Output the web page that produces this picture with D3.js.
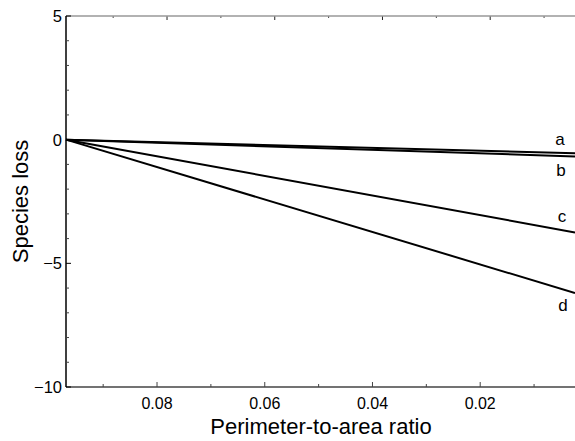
<!DOCTYPE html>
<html>
<head>
<meta charset="utf-8">
<script src="https://cdn.jsdelivr.net/npm/d3@7"></script>
<style>
  body { margin: 0; background: #fff; }
  svg { display: block; font-family: "Liberation Sans", Arial, sans-serif; }
  .tickLabel { font-size: 16px; fill: #000; }
  .axisTitle { font-size: 22px; fill: #000; }
  .curveLabel { font-size: 17px; fill: #000; }
</style>
</head>
<body>
<div id="chart"></div>
<script>
// data
const curves = ["a", "b", "c", "d"]
const xStart = 0.0969
const xEnd = 0.0024
const startValues = [0, 0, 0, 0]
const endValues = [-0.55, -0.68, -3.75, -6.2]
const xTicks = [0.08, 0.06, 0.04, 0.02]
const xMinorTicks = [0.09, 0.07, 0.05, 0.03, 0.01]
const yTicks = [5, 0, -5, -10]
const yMinorTicks = [4, 3, 2, 1, -1, -2, -3, -4, -6, -7, -8, -9]

const renderChart = ({htmlComponent}) => {
    const width = 575
    const height = 441
    const plot = {left: 66, right: 575, top: 16, bottom: 387}

    const svg = d3.select(htmlComponent).append('svg')
        .attr('width', width)
        .attr('height', height)

    const xScale = d3.scaleLinear()
        .domain([xStart, xEnd])
        .range([plot.left, plot.right])

    const yScale = d3.scaleLinear()
        .domain([-10, 5])
        .range([plot.bottom, plot.top])

    const fmt = d3.format('.2f')
    const minus = d => d < 0 ? '\u2212' + Math.abs(d) : '' + d

    // bottom axis
    const bottom = svg.append('g')
        .attr('transform', `translate(0, ${plot.bottom})`)
    bottom.append('line')
        .attr('x1', plot.left).attr('x2', width)
        .attr('stroke', '#444').attr('stroke-width', 1.5)
    bottom.selectAll('.major').data(xTicks).enter()
        .append('line')
            .attr('x1', d => xScale(d)).attr('x2', d => xScale(d))
            .attr('y1', 0).attr('y2', -5)
            .attr('stroke', '#444')
    bottom.selectAll('.minor').data(xMinorTicks).enter()
        .append('line')
            .attr('x1', d => xScale(d)).attr('x2', d => xScale(d))
            .attr('y1', 0).attr('y2', -3)
            .attr('stroke', '#444')
    bottom.selectAll('text').data(xTicks).enter()
        .append('text')
            .attr('class', 'tickLabel')
            .attr('x', d => xScale(d))
            .attr('y', 22)
            .attr('text-anchor', 'middle')
            .text(d => fmt(d))

    // top axis (slightly offset in the original)
    const top = svg.append('g')
        .attr('transform', `translate(10, ${plot.top})`)
    svg.append('line')
        .attr('x1', plot.left).attr('x2', width)
        .attr('y1', plot.top).attr('y2', plot.top)
        .attr('stroke', '#999').attr('stroke-width', 1.5)
    top.selectAll('.major').data(xTicks).enter()
        .append('line')
            .attr('x1', d => xScale(d)).attr('x2', d => xScale(d))
            .attr('y1', 0).attr('y2', 4)
            .attr('stroke', '#222')
    top.selectAll('.minor').data(xMinorTicks).enter()
        .append('line')
            .attr('x1', d => xScale(d)).attr('x2', d => xScale(d))
            .attr('y1', 0).attr('y2', 2)
            .attr('stroke', '#444')

    // left axis
    const left = svg.append('g')
        .attr('transform', `translate(${plot.left}, 0)`)
    left.append('line')
        .attr('y1', plot.top).attr('y2', plot.bottom)
        .attr('stroke', '#000').attr('stroke-width', 1.5)
    left.selectAll('.major').data(yTicks).enter()
        .append('line')
            .attr('y1', d => yScale(d)).attr('y2', d => yScale(d))
            .attr('x1', 0).attr('x2', 5)
            .attr('stroke', '#000')
    left.selectAll('.minor').data(yMinorTicks).enter()
        .append('line')
            .attr('y1', d => yScale(d)).attr('y2', d => yScale(d))
            .attr('x1', 0).attr('x2', 3)
            .attr('stroke', '#444')
    left.selectAll('text').data(yTicks).enter()
        .append('text')
            .attr('class', 'tickLabel')
            .attr('x', -4)
            .attr('y', d => yScale(d) + 6)
            .attr('text-anchor', 'end')
            .style('font-size', '16.5px')
            .text(minus)

    // titles
    svg.append('text')
        .attr('class', 'axisTitle')
        .attr('x', 321)
        .attr('y', 434)
        .attr('text-anchor', 'middle')
        .text('Perimeter-to-area ratio')

    svg.append('text')
        .attr('class', 'axisTitle')
        .attr('transform', `translate(28, ${(plot.top + plot.bottom) / 2}) rotate(-90)`)
        .attr('text-anchor', 'middle')
        .text('Species loss')

    // curves
    const line = d3.line()
        .x(d => xScale(d[0]))
        .y(d => yScale(d[1]))

    const series = curves.map((name, i) => ({
        name,
        points: [[xStart, startValues[i]], [xEnd, endValues[i]]]
    }))

    svg.selectAll('.curve').data(series).enter()
        .append('path')
            .attr('class', 'curve')
            .attr('d', d => line(d.points))
            .attr('fill', 'none')
            .attr('stroke', '#000')
            .attr('stroke-width', 2)

    // labels: a and c above their line, b and d below
    const labelDy = [-8, 20, -10, 18]
    const labelX = [560, 561, 562, 563]
    svg.selectAll('.curveLabel').data(series).enter()
        .append('text')
            .attr('class', 'curveLabel')
            .attr('x', (d, i) => labelX[i])
            .attr('y', (d, i) => yScale(d.points[1][1]) + labelDy[i])
            .attr('text-anchor', 'middle')
            .text(d => d.name)
}

renderChart({htmlComponent: '#chart'})
</script>
</body>
</html>
